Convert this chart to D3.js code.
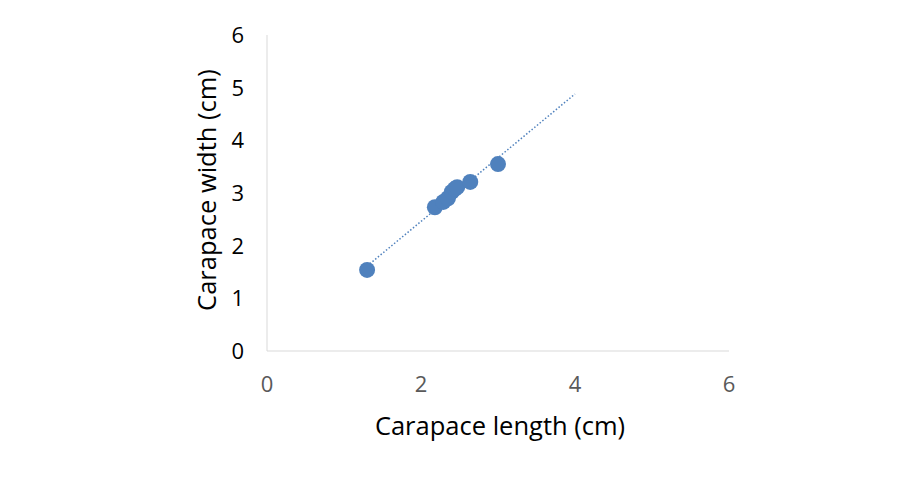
<!DOCTYPE html>
<html><head><meta charset="utf-8">
<script src="https://cdn.jsdelivr.net/npm/d3@7/dist/d3.min.js"></script>
<style>body{margin:0;background:#fff}</style>
</head><body>
<svg id="c" width="900" height="500"></svg>
<script>
const lengthCm = [1.30, 2.18, 2.29, 2.35, 2.40, 2.44, 2.47, 2.64, 3.00];
const widthCm  = [1.54, 2.73, 2.83, 2.90, 3.02, 3.08, 3.11, 3.21, 3.55];
const xTicks = [0, 2, 4, 6];
const yTicks = [0, 1, 2, 3, 4, 5, 6];
const trendSlope = 1.21, trendIntercept = 0.04;
const trendRange = [1.30, 4.0];

const svg = d3.select("#c");
const x = d3.scaleLinear().domain([0, 6]).range([267, 729]);
const y = d3.scaleLinear().domain([0, 6]).range([351, 35]);
const font = "'Open Sans', Carlito, sans-serif";

// axis lines
svg.append("line").attr("x1", x(0)).attr("x2", x(0)).attr("y1", y(0)).attr("y2", y(6))
  .attr("stroke", "#d9d9d9").attr("stroke-width", 1);
svg.append("line").attr("x1", x(0)).attr("x2", x(6)).attr("y1", y(0)).attr("y2", y(0))
  .attr("stroke", "#d9d9d9").attr("stroke-width", 1);

// tick labels
svg.selectAll(".xt").data(xTicks).enter().append("text")
  .attr("x", d => x(d)).attr("y", 392).attr("text-anchor", "middle")
  .attr("font-family", font).attr("font-size", 22).attr("fill", "#595959").text(d => d);
svg.selectAll(".yt").data(yTicks).enter().append("text")
  .attr("x", 244).attr("y", d => y(d) + 8).attr("text-anchor", "end")
  .attr("font-family", font).attr("font-size", 22).attr("fill", "#000").text(d => d);

// titles
svg.append("text").attr("x", 500).attr("y", 435).attr("text-anchor", "middle")
  .attr("font-family", font).attr("font-size", 25.5).attr("fill", "#000").text("Carapace length (cm)");
svg.append("text").attr("transform", "translate(216,190) rotate(-90)").attr("text-anchor", "middle")
  .attr("font-family", font).attr("font-size", 25.5).attr("fill", "#000").text("Carapace width (cm)");

// trendline
svg.append("line")
  .attr("x1", x(trendRange[0])).attr("y1", y(trendSlope * trendRange[0] + trendIntercept))
  .attr("x2", x(trendRange[1])).attr("y2", y(trendSlope * trendRange[1] + trendIntercept))
  .attr("stroke", "#4f81bd").attr("stroke-width", 1.5).attr("stroke-dasharray", "1.5,2");

// points
svg.selectAll(".pt").data(lengthCm.map((v, i) => [v, widthCm[i]])).enter().append("circle")
  .attr("cx", d => x(d[0])).attr("cy", d => y(d[1])).attr("r", 8).attr("fill", "#4f81bd");
</script>
</body></html>
